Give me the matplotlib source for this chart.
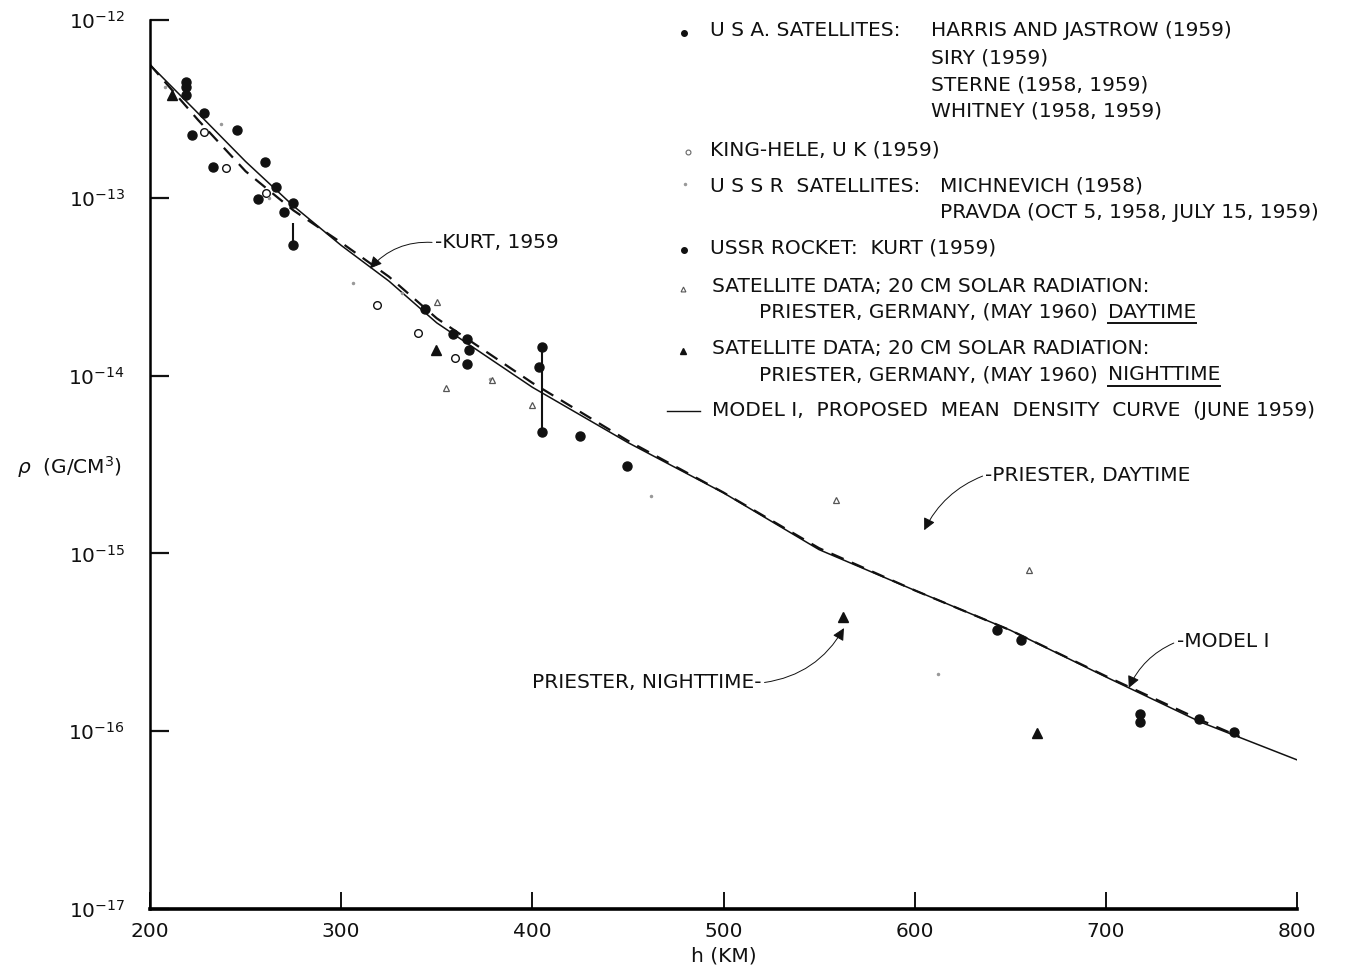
import numpy as np
import matplotlib.pyplot as plt
from matplotlib.lines import Line2D

plt.rcParams['font.family'] = ['DejaVu Sans']
plt.rcParams['mathtext.fontset'] = 'dejavusans'

# Model I, proposed mean density curve (June 1959)
model_h = [200, 225, 250, 275, 300, 325, 350, 400, 450, 500, 550, 600, 650, 700, 750, 800]
model_rho = [5.6e-13, 3.0e-13, 1.6e-13, 9.0e-14, 5.4e-14, 3.4e-14, 1.98e-14, 8.6e-15,
             4.2e-15, 2.19e-15, 1.05e-15, 6.2e-16, 3.7e-16, 2.02e-16, 1.12e-16, 6.9e-17]

# Priester curve (dashed)
pri_h = [200, 225, 250, 275, 300, 325, 350, 400, 450, 500, 550, 600, 650, 700, 750, 770]
pri_rho = [5.6e-13, 2.75e-13, 1.41e-13, 8.5e-14, 5.6e-14, 3.6e-14, 2.1e-14, 9.1e-15,
           4.3e-15, 2.2e-15, 1.07e-15, 6.2e-16, 3.7e-16, 2.04e-16, 1.15e-16, 9.3e-17]

# U.S.A. satellites + USSR rocket (filled circles)
usa_h = [219, 219, 219, 222, 228, 233, 245.5, 260, 266, 256.5, 275, 270, 275,
         344, 358.5, 366, 367, 366, 405, 403.5, 405, 425, 449.5,
         643, 655.6, 718, 718, 748.7, 767]
usa_rho = [4.5e-13, 4.2e-13, 3.8e-13, 2.25e-13, 3.0e-13, 1.49e-13, 2.4e-13, 1.58e-13,
           1.15e-13, 9.85e-14, 9.3e-14, 8.3e-14, 5.4e-14,
           2.37e-14, 1.71e-14, 1.61e-14, 1.39e-14, 1.16e-14, 1.45e-14, 1.12e-14, 4.8e-15,
           4.6e-15, 3.1e-15,
           3.7e-16, 3.26e-16, 1.25e-16, 1.12e-16, 1.17e-16, 9.9e-17]

# King-Hele, U.K. (open circles)
king_h = [228, 240, 260.7, 319, 340, 359.5]
king_rho = [2.35e-13, 1.47e-13, 1.06e-13, 2.5e-14, 1.74e-14, 1.26e-14]

# USSR satellites (small faint marks)
ussr_h = [208, 237, 262, 306, 332, 378, 462, 612]
ussr_rho = [4.2e-13, 2.6e-13, 1.0e-13, 3.3e-14, 2.9e-14, 9.6e-15, 2.1e-15, 2.1e-16]

# Priester daytime (open triangles)
day_h = [350, 355, 379, 400, 559, 660]
day_rho = [2.6e-14, 8.5e-15, 9.4e-15, 6.8e-15, 2.0e-15, 8.1e-16]

# Priester nighttime (filled triangles)
night_h = [211.5, 349.6, 562.5, 664]
night_rho = [3.8e-13, 1.39e-14, 4.4e-16, 9.8e-17]

# vertical bars joining spread points
bar_h = [219, 275, 405]
bar_lo = [3.7e-13, 5.4e-14, 4.8e-15]
bar_hi = [4.6e-13, 7.2e-14, 1.45e-14]

ink = '#111111'
W, H = 1349, 972
fs = 14.5

fig = plt.figure(figsize=(13.49, 9.72), dpi=100)
ax = fig.add_axes([150 / W, 1 - 909 / H, 1147 / W, 889 / H])

ax.plot(model_h, model_rho, color=ink, lw=1.1, ls='-')
ax.plot(pri_h, pri_rho, color=ink, lw=1.6, ls=(0, (6, 4)))
ax.vlines(bar_h, bar_lo, bar_hi, color=ink, lw=1.5)

ax.plot(usa_h, usa_rho, 'o', ms=6.5, color=ink, mec=ink)
ax.plot(king_h, king_rho, 'o', ms=5.5, mfc='white', mec=ink, mew=1.0)
ax.plot(ussr_h, ussr_rho, '.', ms=3, color='#999999')
ax.plot(day_h, day_rho, '^', ms=5, mfc='white', mec='#555555', mew=0.9)
ax.plot(night_h, night_rho, '^', ms=6.5, color=ink)

ax.set_yscale('log')
ax.set_xlim(200, 800)
ax.set_ylim(1e-17, 1e-12)
ax.set_xticks([200, 300, 400, 500, 600, 700, 800])
ax.set_xticklabels(['200', '300', '400', '500', '600', '700', '800'])
ax.set_yticks([1e-17, 1e-16, 1e-15, 1e-14, 1e-13, 1e-12])
ax.set_yticklabels([r'$10^{-17}$', r'$10^{-16}$', r'$10^{-15}$', r'$10^{-14}$',
                    r'$10^{-13}$', r'$10^{-12}$'])
ax.minorticks_off()
ax.tick_params(axis='y', direction='in', length=14, width=1.6, pad=18, labelsize=fs, colors=ink)
ax.tick_params(axis='x', direction='in', length=12, width=1.4, pad=9, labelsize=fs, colors=ink)
for s in ['top', 'right']:
    ax.spines[s].set_visible(False)
ax.spines['left'].set_linewidth(1.8)
ax.spines['bottom'].set_linewidth(2.6)
ax.set_xlabel('h (KM)', fontsize=fs, color=ink)
ax.xaxis.set_label_coords(0.5, -0.042)
ax.set_ylabel(r'$\rho$  (G/CM$^3$)', fontsize=fs, rotation=0, color=ink, ha='center', va='center')
ax.yaxis.set_label_coords(-0.07, 0.497)

# call-outs on the curves
ann = dict(fontsize=fs, color=ink, va='center', ha='left')
arrow = dict(arrowstyle='-|>', color=ink, lw=0.7, mutation_scale=18, shrinkA=0, shrinkB=0,
             relpos=(0, 0.5))
ax.annotate('-KURT, 1959', xy=(315, 4.0e-14), xytext=(349, 5.6e-14),
            arrowprops=dict(arrow, connectionstyle='arc3,rad=0.25'), **ann)
ax.annotate('-PRIESTER, DAYTIME', xy=(605, 1.35e-15), xytext=(637, 2.76e-15),
            arrowprops=dict(arrow, connectionstyle='arc3,rad=0.2'), **ann)
ax.annotate('-MODEL I', xy=(712, 1.75e-16), xytext=(737, 3.18e-16),
            arrowprops=dict(arrow, connectionstyle='arc3,rad=0.2'), **ann)
ax.annotate('PRIESTER, NIGHTTIME-', xy=(563, 3.8e-16), xytext=(520, 1.87e-16),
            arrowprops=dict(arrow, relpos=(1, 0.5), connectionstyle='arc3,rad=0.25'),
            fontsize=fs, color=ink, va='center', ha='right')

# legend block drawn as text, as on the original sheet
def ftext(px, py, s):
    return fig.text(px / W, 1 - py / H, s, fontsize=fs, color=ink, va='center', ha='left')

def fmark(px, py, **kw):
    fig.add_artist(Line2D([px / W], [1 - py / H], ls='none', **kw))

fmark(684, 33, marker='o', ms=4, color=ink)
ftext(710, 31, 'U S A. SATELLITES:')
ftext(931, 31, 'HARRIS AND JASTROW (1959)')
ftext(931, 58, 'SIRY (1959)')
ftext(931, 85, 'STERNE (1958, 1959)')
ftext(931, 111, 'WHITNEY (1958, 1959)')
fmark(688, 152, marker='o', ms=3.5, mfc='white', mec='#666666', mew=0.8)
ftext(710, 150, 'KING-HELE, U K (1959)')
fmark(685, 184, marker='.', ms=3, color='#999999')
ftext(710, 186, 'U S S R  SATELLITES:')
ftext(940, 186, 'MICHNEVICH (1958)')
ftext(940, 212, 'PRAVDA (OCT 5, 1958, JULY 15, 1959)')
fmark(684, 250, marker='o', ms=4, color=ink)
ftext(710, 248, 'USSR ROCKET:  KURT (1959)')
fmark(683, 289, marker='^', ms=3.5, mfc='white', mec='#555555', mew=0.8)
ftext(712, 286, 'SATELLITE DATA; 20 CM SOLAR RADIATION:')
p_day = ftext(759, 312, 'PRIESTER, GERMANY, (MAY 1960)')
fmark(683, 351, marker='^', ms=5, color=ink)
ftext(712, 348, 'SATELLITE DATA; 20 CM SOLAR RADIATION:')
p_night = ftext(759, 375, 'PRIESTER, GERMANY, (MAY 1960)')
fig.add_artist(Line2D([667 / W, 700 / W], [1 - 411 / H] * 2, color=ink, lw=1.0))
ftext(712, 411, 'MODEL I,  PROPOSED  MEAN  DENSITY  CURVE  (JUNE 1959)')

# underlined words go right after the rendered prefix
fig.canvas.draw()
inv = fig.transFigure.inverted()
for prefix, word, py in ((p_day, 'DAYTIME', 312), (p_night, 'NIGHTTIME', 375)):
    x1 = prefix.get_window_extent().x1
    t = ftext(x1 + 10, py, word)
    bb = t.get_window_extent(renderer=fig.canvas.get_renderer()).transformed(inv)
    fig.add_artist(Line2D([bb.x0, bb.x1], [bb.y0 - 2 / H] * 2, color=ink, lw=1.4))

fig.savefig('out.png', dpi=100, facecolor='white')
